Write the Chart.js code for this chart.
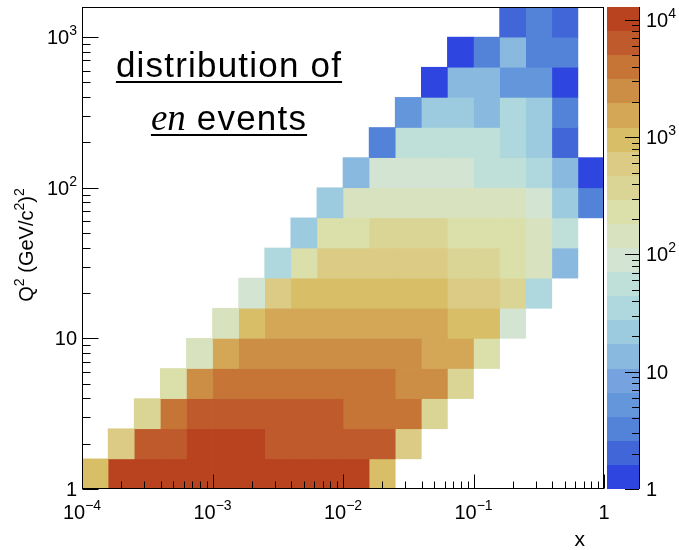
<!DOCTYPE html>
<html>
<head>
<meta charset="utf-8">
<script src="https://cdn.jsdelivr.net/npm/chart.js@4.4.1/dist/chart.umd.min.js"></script>
<style>
  html, body { margin: 0; padding: 0; background: #fff; }
  #wrap { width: 679px; height: 550px; }
</style>
</head>
<body>
<div id="wrap"><canvas id="enEventsChart" width="679" height="550"></canvas></div>
<script>
// bin edges, as log10 exponents: 20 x bins and 16 Q2 bins
const xEdgeExp = [-4.0, -3.8, -3.6, -3.4, -3.2, -3.0, -2.8, -2.6, -2.4, -2.2, -2.0,
                  -1.8, -1.6, -1.4, -1.2, -1.0, -0.8, -0.6, -0.4, -0.2, 0.0];
const q2BinLabels = ['1-1.6', '1.6-2.5', '2.5-4', '4-6.3', '6.3-10', '10-16', '16-25', '25-40',
                     '40-63', '63-100', '100-158', '158-251', '251-398', '398-631', '631-1000', '1000-1585'];
const q2Max = 1585;
const zMax = 12900;

// event counts per Q2 bin (bottom row first), one value per x bin
const q2Row00 = [950, 9400, 10800, 11500, 11900, 12100, 11800, 11200, 10300, 9500, 8600, 1020, 0, 0, 0, 0, 0, 0, 0, 0];
const q2Row01 = [0, 620, 5600, 7400, 8400, 8900, 8300, 7600, 7000, 6500, 5900, 5200, 560, 0, 0, 0, 0, 0, 0, 0];
const q2Row02 = [0, 0, 410, 4300, 5300, 6200, 6800, 7000, 6600, 5800, 4800, 4200, 3500, 330, 0, 0, 0, 0, 0, 0];
const q2Row03 = [0, 0, 0, 250, 2700, 3500, 4200, 4700, 4800, 4500, 4000, 3400, 2900, 2300, 340, 0, 0, 0, 0, 0];
const q2Row04 = [0, 0, 0, 0, 150, 1800, 2300, 2800, 3000, 2900, 2700, 2400, 2100, 1800, 1400, 220, 0, 0, 0, 0];
const q2Row05 = [0, 0, 0, 0, 0, 130, 1050, 1400, 1650, 1800, 1750, 1600, 1450, 1300, 1100, 880, 95, 0, 0, 0];
const q2Row06 = [0, 0, 0, 0, 0, 0, 85, 680, 880, 1000, 1100, 1050, 970, 860, 700, 560, 360, 34, 0, 0];
const q2Row07 = [0, 0, 0, 0, 0, 0, 0, 38, 270, 520, 610, 660, 640, 570, 440, 380, 280, 150, 14, 0];
const q2Row08 = [0, 0, 0, 0, 0, 0, 0, 0, 24, 210, 270, 320, 340, 310, 280, 250, 210, 160, 60, 0];
const q2Row09 = [0, 0, 0, 0, 0, 0, 0, 0, 0, 20, 125, 150, 165, 170, 160, 145, 125, 95, 22, 3];
const q2Row10 = [0, 0, 0, 0, 0, 0, 0, 0, 0, 0, 14, 80, 95, 100, 90, 65, 58, 40, 15, 1];
const q2Row11 = [0, 0, 0, 0, 0, 0, 0, 0, 0, 0, 0, 3, 48, 60, 62, 52, 38, 24, 2, 0];
const q2Row12 = [0, 0, 0, 0, 0, 0, 0, 0, 0, 0, 0, 0, 5, 20, 25, 15, 30, 21, 3, 0];
const q2Row13 = [0, 0, 0, 0, 0, 0, 0, 0, 0, 0, 0, 0, 0, 1, 13, 14, 5, 6, 1, 0];
const q2Row14 = [0, 0, 0, 0, 0, 0, 0, 0, 0, 0, 0, 0, 0, 0, 1, 3, 12, 3, 3, 0];
const q2Row15 = [0, 0, 0, 0, 0, 0, 0, 0, 0, 0, 0, 0, 0, 0, 0, 0, 2, 3, 2, 0];

// tick labels ("base^exponent")
const xTickValues = [1e-4, 1e-3, 1e-2, 1e-1, 1];
const xTickLabels = ['10^\u22124', '10^\u22123', '10^\u22122', '10^\u22121', '1'];
const q2TickValues = [1, 10, 100, 1000];
const q2TickLabels = ['1', '10', '10^2', '10^3'];
const zTickValues = [1, 10, 100, 1000, 10000];
const zTickLabels = ['1', '10', '10^2', '10^3', '10^4'];

// 20-level palette, low to high
const palette = ['#2f45e0', '#4166d8', '#5283d8', '#6496dc', '#76a3e0', '#8ab9e0', '#9ccbdf', '#aed8dd',
                 '#bfdfd9', '#d3e5d2', '#d9e2be', '#dbdfaa', '#dbd595', '#dbcb85', '#d7be67', '#d3a756',
                 '#cb8e44', '#c67536', '#bf5a2d', '#b9421f'];

const countRows = [q2Row00, q2Row01, q2Row02, q2Row03, q2Row04, q2Row05, q2Row06, q2Row07,
                   q2Row08, q2Row09, q2Row10, q2Row11, q2Row12, q2Row13, q2Row14, q2Row15];

const sansFont = '"Liberation Sans", Arial, Helvetica, sans-serif';
const serifFont = '"Liberation Serif", "Times New Roman", serif';

function colorFor(count) {
    let k = Math.floor(Math.log10(count) / Math.log10(zMax) * palette.length);
    k = Math.max(0, Math.min(palette.length - 1, k));
    return palette[k];
}

// one dataset per x bin, floating bars spanning the bin
const datasets = [];
for (let j = 0; j < xEdgeExp.length - 1; j++) {
    const lo = Math.pow(10, xEdgeExp[j]);
    const hi = Math.pow(10, xEdgeExp[j + 1]);
    datasets.push({
        label: 'x bin ' + j,
        data: countRows.map(row => row[j] > 0 ? [lo, hi] : null),
        backgroundColor: countRows.map(row => row[j] > 0 ? colorFor(row[j]) : 'rgba(0,0,0,0)'),
        borderWidth: 0,
        grouped: false,
        barPercentage: 1,
        categoryPercentage: 1
    });
}

function minorValues(min, max) {
    const out = [];
    for (let d = Math.floor(Math.log10(min)); d <= Math.ceil(Math.log10(max)); d++) {
        for (let m = 2; m <= 9; m++) {
            const v = m * Math.pow(10, d);
            if (v > min && v < max) out.push(v);
        }
    }
    return out;
}

// draws "10" with a raised exponent; y is the baseline
function drawPower(c, label, x, y, align, size) {
    const parts = label.split('^');
    const supSize = Math.round(size * 0.7);
    c.font = size + 'px ' + sansFont;
    const wb = c.measureText(parts[0]).width;
    c.font = supSize + 'px ' + sansFont;
    const we = parts[1] ? c.measureText(parts[1]).width : 0;
    const total = wb + we;
    let x0 = x;
    if (align === 'center') x0 = x - total / 2;
    if (align === 'right') x0 = x - total;
    c.textAlign = 'left';
    c.textBaseline = 'alphabetic';
    c.font = size + 'px ' + sansFont;
    c.fillText(parts[0], x0, y);
    if (parts[1]) {
        c.font = supSize + 'px ' + sansFont;
        c.fillText(parts[1], x0 + wb, y - size * 0.45);
    }
}

const rootStyle = {
    id: 'rootStyle',
    afterDraw(chart) {
        const c = chart.ctx;
        const area = chart.chartArea;
        const xs = chart.scales.x;
        const qs = chart.scales.q2;
        const zs = chart.scales.z;
        c.save();
        c.strokeStyle = '#000';
        c.fillStyle = '#000';
        c.lineWidth = 1;

        // frame
        c.strokeRect(Math.round(area.left) + 0.5, Math.round(area.top) + 0.5,
                     Math.round(area.right - area.left) - 1, Math.round(area.bottom - area.top) - 1);

        // x axis ticks
        const yb = Math.round(area.bottom) - 0.5;
        c.beginPath();
        xTickValues.forEach(v => {
            const px = Math.round(xs.getPixelForValue(v)) + 0.5;
            c.moveTo(px, yb); c.lineTo(px, yb - 14);
        });
        minorValues(1e-4, 1).forEach(v => {
            const px = Math.round(xs.getPixelForValue(v)) + 0.5;
            c.moveTo(px, yb); c.lineTo(px, yb - 7);
        });
        // y axis ticks
        const xl = Math.round(area.left) + 0.5;
        q2TickValues.forEach(v => {
            const py = Math.round(qs.getPixelForValue(v)) + 0.5;
            c.moveTo(xl, py); c.lineTo(xl + 16, py);
        });
        minorValues(1, q2Max).forEach(v => {
            const py = Math.round(qs.getPixelForValue(v)) + 0.5;
            c.moveTo(xl, py); c.lineTo(xl + 8, py);
        });
        c.stroke();

        // tick labels
        xTickValues.forEach((v, i) => drawPower(c, xTickLabels[i], xs.getPixelForValue(v), area.bottom + 30, 'center', 20));
        q2TickValues.forEach((v, i) => drawPower(c, q2TickLabels[i], area.left - 5, qs.getPixelForValue(v) + 7, 'right', 20));

        // axis titles
        c.font = '21px ' + sansFont;
        c.textAlign = 'right';
        c.fillText('x', 585, 546);

        c.save();
        c.translate(33, 245);
        c.rotate(-Math.PI / 2);
        const segs = [['Q', false], ['2', true], [' (GeV/c', false], ['2', true], [')', false], ['2', true]];
        let tw = 0;
        segs.forEach(s => { c.font = (s[1] ? 14 : 20) + 'px ' + sansFont; tw += c.measureText(s[0]).width; });
        let tx = -tw / 2;
        c.textAlign = 'left';
        segs.forEach(s => {
            c.font = (s[1] ? 14 : 20) + 'px ' + sansFont;
            c.fillText(s[0], tx, s[1] ? -9 : 0);
            tx += c.measureText(s[0]).width;
        });
        c.restore();

        // colour bar
        const cbLeft = 607, cbRight = 639;
        const zLog = Math.log10(zMax);
        for (let k = 0; k < palette.length; k++) {
            const y0 = Math.round(zs.getPixelForValue(Math.pow(10, k * zLog / palette.length)));
            const y1 = Math.round(zs.getPixelForValue(Math.pow(10, (k + 1) * zLog / palette.length)));
            c.fillStyle = palette[k];
            c.fillRect(cbLeft, y1, cbRight - cbLeft, y0 - y1);
        }
        c.fillStyle = '#000';
        c.beginPath();
        c.moveTo(cbRight + 0.5, Math.round(zs.top));
        c.lineTo(cbRight + 0.5, Math.round(zs.bottom));
        zTickValues.forEach(v => {
            const py = Math.round(zs.getPixelForValue(v)) + 0.5;
            c.moveTo(cbRight, py); c.lineTo(cbRight - 14, py);
        });
        minorValues(1, zMax).forEach(v => {
            const py = Math.round(zs.getPixelForValue(v)) + 0.5;
            c.moveTo(cbRight, py); c.lineTo(cbRight - 7, py);
        });
        c.stroke();
        zTickValues.forEach((v, i) => drawPower(c, zTickLabels[i], 646, zs.getPixelForValue(v) + 7, 'left', 20));

        // annotation
        c.letterSpacing = '1.2px';
        c.font = '35px ' + sansFont;
        c.textAlign = 'center';
        c.fillText('distribution of', 229, 77);
        const w1 = c.measureText('distribution of').width;
        c.fillRect(229 - w1 / 2, 81, w1, 2);

        c.font = 'italic 37px ' + serifFont;
        c.letterSpacing = '0px';
        const wEn = c.measureText('en').width;
        c.letterSpacing = '1.2px';
        c.font = '35px ' + sansFont;
        const wEv = c.measureText(' events').width;
        const x2 = 229 - (wEn + wEv) / 2;
        c.textAlign = 'left';
        c.letterSpacing = '0px';
        c.font = 'italic 37px ' + serifFont;
        c.fillText('en', x2, 130);
        c.letterSpacing = '1.2px';
        c.font = '35px ' + sansFont;
        c.fillText(' events', x2 + wEn, 130);
        c.fillRect(x2, 134, wEn + wEv, 2);
        c.restore();
    }
};

const ctx = document.getElementById('enEventsChart').getContext('2d');
const chart = new Chart(ctx, {
    type: 'bar',
    data: {
        labels: q2BinLabels,
        datasets: datasets
    },
    options: {
        indexAxis: 'y',
        responsive: false,
        animation: false,
        layout: { padding: { left: 82, right: 75, top: 7, bottom: 61 } },
        plugins: {
            legend: { display: false },
            tooltip: { enabled: false }
        },
        scales: {
            x: { type: 'logarithmic', min: 1e-4, max: 1, display: false },
            y: { type: 'category', reverse: true, offset: true, display: false },
            q2: { type: 'logarithmic', axis: 'y', min: 1, max: q2Max, display: false },
            z: { type: 'logarithmic', axis: 'y', min: 1, max: zMax, display: false }
        }
    },
    plugins: [rootStyle]
});
</script>
</body>
</html>
